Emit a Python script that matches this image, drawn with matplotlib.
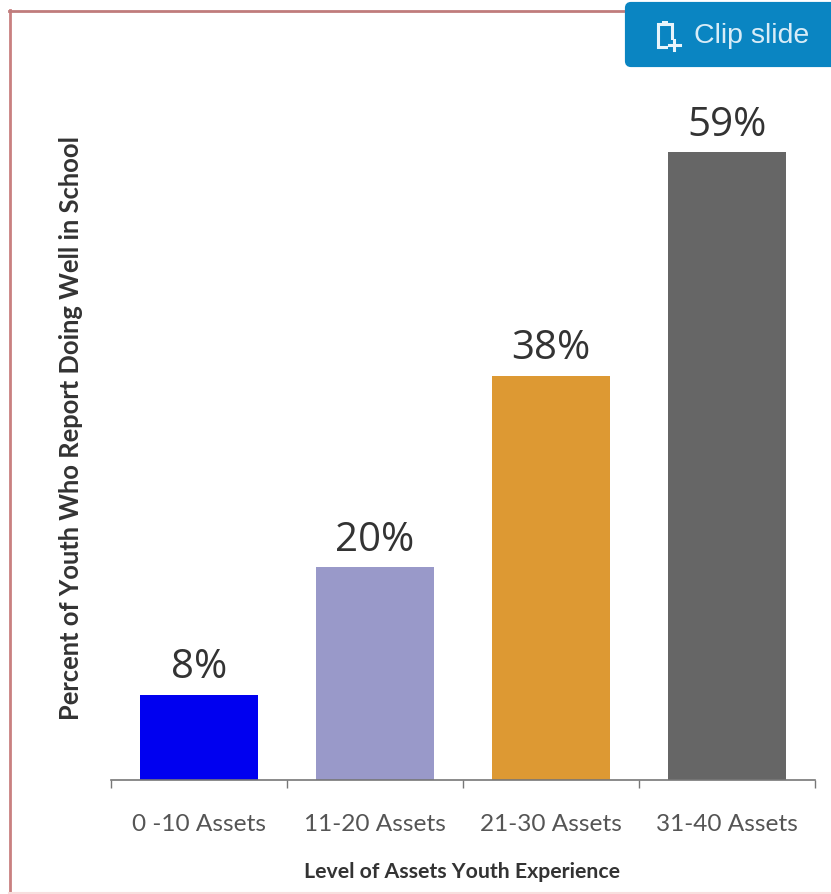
import matplotlib
matplotlib.use('Agg')
import matplotlib.pyplot as plt
from matplotlib.patches import FancyBboxPatch, Rectangle
from matplotlib.lines import Line2D

categories = ['0 -10 Assets', '11-20 Assets', '21-30 Assets', '31-40 Assets']
values = [8, 20, 38, 59]
labels = ['8%', '20%', '38%', '59%']
colors = ['#0000f0', '#9999c9', '#dd9933', '#666666']

W, H = 831, 895
plt.rcParams['font.family'] = ['Lato', 'DejaVu Sans']

fig = plt.figure(figsize=(W / 100, H / 100), dpi=100)

# slide border and the button, in pixel coords
bg = fig.add_axes([0, 0, 1, 1])
bg.set_xlim(0, W)
bg.set_ylim(H, 0)
bg.axis('off')
bg.add_line(Line2D([9.5, 9.5], [11, 893], color='#c98080', lw=2))
bg.add_line(Line2D([9, 831], [11.5, 11.5], color='#c07c7c', lw=2))
bg.add_line(Line2D([9, 831], [893.5, 893.5], color='#f8dede', lw=1.5))
bg.add_patch(FancyBboxPatch((627, 5), 210, 61, boxstyle='round,pad=0,rounding_size=4',
                            fc='#0a85c2', ec='#0a85c2', lw=3, zorder=3))
bg.add_patch(Rectangle((658, 25), 14, 23, fc='none', ec='#e8f4fb', lw=2.2, zorder=4))
bg.add_patch(Rectangle((662, 22), 6, 5, fc='#e8f4fb', ec='none', zorder=4))
bg.add_patch(Rectangle((668, 41), 12, 10, fc='#0a85c2', ec='none', zorder=4))
bg.add_line(Line2D([674, 674], [41, 51], color='#e8f4fb', lw=2.2, zorder=5))
bg.add_line(Line2D([669, 680], [46, 46], color='#e8f4fb', lw=2.2, zorder=5))
bg.text(694, 36, 'Clip slide', color='#d8ecf7', fontsize=20.5, va='center', ha='left',
        family=['Liberation Sans'], zorder=4)

# plot area
x0, x1 = 111, 815
y0, y1 = 781, 81
ax = fig.add_axes([x0 / W, 1 - y0 / H, (x1 - x0) / W, (y0 - y1) / H])
ax.patch.set_alpha(0)
xs = range(len(values))
ax.bar(xs, values, width=0.67, color=colors)
ax.set_xlim(-0.5, 3.5)
ax.set_ylim(0, (y0 - y1) / 10.64)

for x, v, t in zip(xs, values, labels):
    ax.annotate(t, (x, v), xytext=(0, 5.5), textcoords='offset points', ha='center', va='bottom',
                fontsize=29, color='#333333', family=['Open Sans'])

for s in ['top', 'right', 'left']:
    ax.spines[s].set_visible(False)
ax.spines['bottom'].set_color('#777777')
ax.spines['bottom'].set_linewidth(1.2)
ax.set_yticks([])
ax.set_xticks([-0.5, 0.5, 1.5, 2.5, 3.5])
ax.set_xticklabels([])
ax.tick_params(axis='x', length=6, width=1, color='#777777')
ax.set_xticks(list(xs), categories, minor=True)
ax.tick_params(axis='x', which='minor', length=0, pad=24, labelsize=17.6, labelcolor='#555555')

bg.text(462, 872, 'Level of Assets Youth Experience', fontsize=15.3, fontweight='bold',
        color='#333333', ha='center', va='center')
bg.text(71, 428, 'Percent of Youth Who Report Doing Well in School', fontsize=18.4, fontweight='bold',
        color='#333333', ha='center', va='center', rotation=90)

fig.savefig('out.png', dpi=100)
